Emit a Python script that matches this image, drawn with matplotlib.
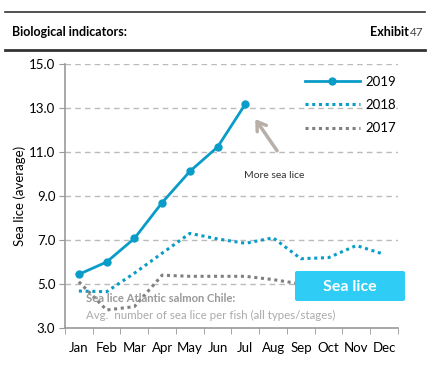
import numpy as np
import matplotlib
matplotlib.use("Agg")
import matplotlib.pyplot as plt
from matplotlib.patches import FancyBboxPatch

plt.rcParams['font.family'] = ['Lato', 'DejaVu Sans']

months = ["Jan", "Feb", "Mar", "Apr", "May", "Jun", "Jul", "Aug", "Sep", "Oct", "Nov", "Dec"]
lice_2019 = [5.44, 6.0, 7.07, 8.7, 10.12, 11.23, 13.18]
lice_2018 = [4.68, 4.65, 5.49, 6.4, 7.3, 7.05, 6.85, 7.1, 6.15, 6.2, 6.75, 6.35]
lice_2017 = [5.1, 3.82, 3.97, 5.4, 5.35, 5.35, 5.35, 5.2, 5.0, 5.0, 5.0, 5.0]
y_ticks = [3.0, 5.0, 7.0, 9.0, 11.0, 13.0, 15.0]

blue = "#0a9cc8"
grey = "#7f7f7f"

fig = plt.figure(figsize=(4.39, 3.66), dpi=100)

# header lines + title
fig.add_artist(plt.Line2D([5 / 439, 425 / 439], [1 - 12 / 366, 1 - 12 / 366], color="#333333", lw=1.2))
fig.add_artist(plt.Line2D([5 / 439, 425 / 439], [1 - 50 / 366, 1 - 50 / 366], color="#333333", lw=2.0))
fig.text(12 / 439, 1 - 32 / 366, "Biological indicators:", fontsize=9, fontweight="bold", va="center")
fig.text(424 / 439, 1 - 32 / 366, "47", fontsize=8.5, color="#444444", va="center", ha="right")
fig.text(409 / 439, 1 - 32 / 366, "Exhibit", fontsize=9, fontweight="bold", va="center", ha="right")

ax = fig.add_axes([65 / 439, 38 / 366, 333 / 439, 264 / 366])
x = np.arange(len(months))

ax.plot(x[:len(lice_2019)], lice_2019, color=blue, lw=2, marker="o", ms=5, label="2019", zorder=4)
ax.plot(x, lice_2018, color=blue, lw=2.2, ls=(0, (1, 1.2)), label="2018", zorder=3)
ax.plot(x, lice_2017, color=grey, lw=2.2, ls=(0, (1, 1.2)), label="2017", zorder=3)

ax.set_xlim(-0.5, 11.5)
ax.set_ylim(3, 15)
ax.set_yticks(y_ticks)
ax.set_yticklabels([f"{v:.1f}" for v in y_ticks], fontsize=9.5)
ax.set_xticks(x)
ax.set_xticklabels(months, fontsize=9.5)
ax.set_xticks(np.arange(-0.5, 12, 1), minor=True)
ax.tick_params(axis="x", which="major", length=0, pad=10)
ax.tick_params(axis="x", which="minor", length=4, color="#999999", direction="out")
ax.tick_params(axis="y", length=4, color="#999999", pad=3)
for yv in y_ticks[1:]:
    ax.axhline(yv, color="#bbbbbb", lw=1, ls=(0, (4, 3)), zorder=1)
for s in ["top", "right"]:
    ax.spines[s].set_visible(False)
for s in ["left", "bottom"]:
    ax.spines[s].set_color("#999999")
    ax.spines[s].set_linewidth(1.2)
ax.set_ylabel("Sea lice (average)", fontsize=9.5, labelpad=2)

leg = ax.legend(loc="upper right", bbox_to_anchor=(1.03, 1.0), frameon=False, fontsize=9.5,
                handlelength=4.2, labelspacing=0.85, handletextpad=0.4)

ax.annotate("", xy=(6.3, 12.6), xytext=(7.2, 10.95),
            arrowprops=dict(arrowstyle="->,head_length=0.6,head_width=0.4", color="#b8b0a8", lw=2.5))
ax.text(5.95, 9.8, "More sea lice", fontsize=7.5, color="#333333")

ax.text(0.25, 4.2, "Sea lice Atlantic salmon Chile:", fontsize=8.1, fontweight="bold", color="#999999", zorder=5)
ax.text(0.25, 3.4, "Avg.  number of sea lice per fish (all types/stages)", fontsize=8.3, color="#aaaaaa", zorder=5)

box = FancyBboxPatch((295 / 439, 1 - 301 / 366), 110 / 439, 30 / 366, boxstyle="round,pad=0,rounding_size=0.005",
                     transform=fig.transFigure, facecolor="#2fcdf5", edgecolor="none", zorder=10)
fig.add_artist(box)
fig.text(350 / 439, 1 - 287 / 366, "Sea lice", fontsize=11.5, fontweight="bold", color="white",
         ha="center", va="center", zorder=11)

fig.savefig("out.png", dpi=100)
